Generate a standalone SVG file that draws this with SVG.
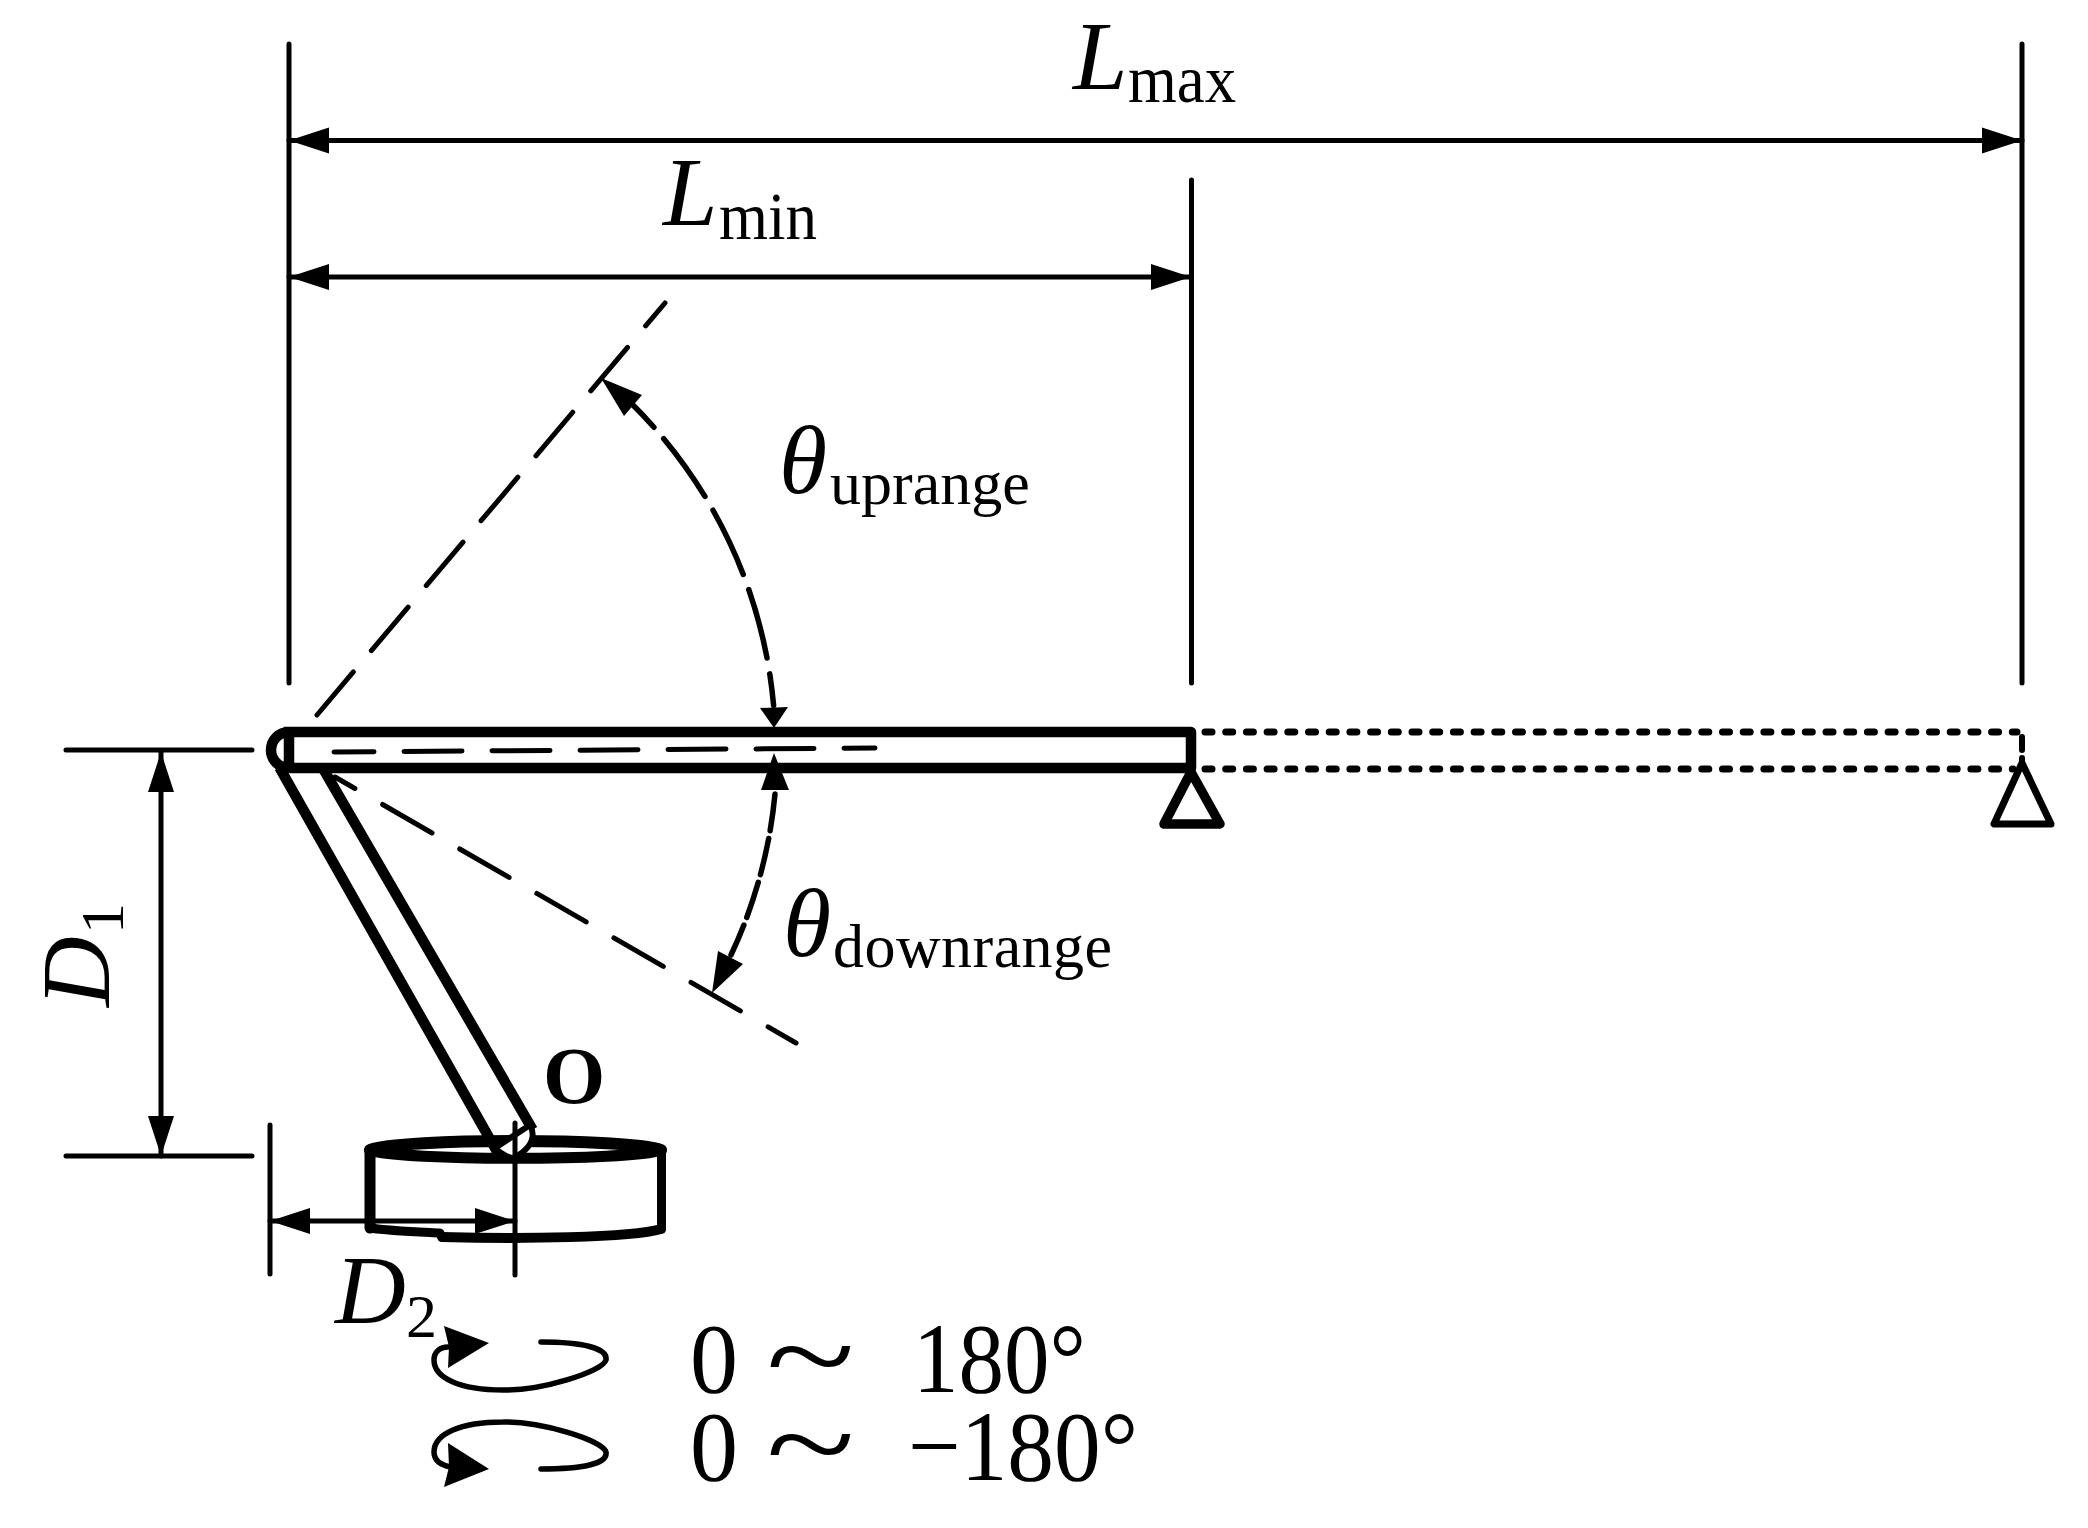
<svg xmlns="http://www.w3.org/2000/svg" width="2088" height="1528" viewBox="0 0 2088 1528">
<style>
.ln{fill:none;stroke:#000;stroke-linecap:round;stroke-linejoin:round}
.t4{stroke-width:5}.t5{stroke-width:5.5}.b{stroke-width:10.5;stroke-linecap:square;stroke-linejoin:round}
.ah{fill:#000;stroke:none}
.dot{fill:none;stroke:#000;stroke-width:7;stroke-linecap:round;stroke-dasharray:7 13.7}
text{font-family:"Liberation Serif","Times New Roman",serif;fill:#000}
.i{font-style:italic}
</style>
<defs>
<marker id="arrow" markerUnits="userSpaceOnUse" markerWidth="42" markerHeight="30" refX="40" refY="14" orient="auto-start-reverse"><path class="ah" d="M0,1 L40,14 L0,27 Z"/></marker>
</defs>
<rect width="2088" height="1528" fill="#fff"/>
<g id="connectors">
<path class="ln t4" d="M289,44V683M1191.500,180V683M2022,44V683"/>
<path class="ln t4" d="M66,750H252M66,1156H252M270,1125V1274"/>
<path class="ln t4" marker-start="url(#arrow)" marker-end="url(#arrow)" d="M289,140.500H2022"/>
<path class="ln t4" marker-start="url(#arrow)" marker-end="url(#arrow)" d="M289,277H1191"/>
<path class="ln t4" marker-start="url(#arrow)" marker-end="url(#arrow)" d="M161,752V1156"/>
<path class="ln t4" stroke-dasharray="57 28" stroke-dashoffset="27" d="M665,303L317,715"/>
<path class="ln t4" stroke-dasharray="57 32" stroke-dashoffset="34" d="M335,777L796,1043"/>
<path class="ln t4" stroke-dasharray="58 30" stroke-dashoffset="18" d="M334,752L875,748"/>
<path class="ln t5" stroke-dasharray="32 15 71 16 71 16 71 16 32" d="M632,404A485,485 0 0 1 774,710"/>
<path class="ln t5" stroke-dasharray="37 8" d="M775,794A487,487 0 0 1 731,955"/>
<path class="ah" d="M601,378L642,395L624,416Z"/>
<path class="ah" d="M774,728L760,708L788,707Z"/>
<path class="ah" d="M774,753L761,790L789,790Z"/>
<path class="ah" d="M712,993L718,951L743,964Z"/>
</g>
<g id="beam">
<path class="dot" d="M1205,732H2017M1205,769H2013"/>
<path class="ln" stroke-width="6" d="M2022,737V750M2022,758V768"/>
<path class="ln b" d="M1191,732H289A18,18 0 0 0 289,768H1191ZM289,732V768"/>
</g>
<g id="arm">
<path class="ln b" d="M282,772L495,1148M325,772L530,1125"/>
</g>
<g id="support-min"><path class="ln" stroke-width="9.500" d="M1191,772L1164,824H1220Z"/></g>
<g id="support-max"><path class="ln" stroke-width="7" d="M2022,763L1994,824H2051Z"/></g>
<g id="turntable">
<path class="ln" stroke-width="11" d="M370,1150V1228"/>
<path class="ln" stroke-width="9" d="M661.500,1150V1229"/>
<path class="ln" stroke-width="12" d="M370,1150C400,1138 630,1138 661,1150"/>
<path class="ln" stroke-width="11" d="M370,1150C400,1161 630,1161 661,1150"/>
<path class="ln" stroke-width="9" d="M370,1228C390,1231 420,1232 440,1233"/>
<path fill="none" stroke="#000" stroke-width="10" stroke-linecap="round" d="M442,1237C520,1239 630,1238 661,1229"/>
</g>
<g id="pivot">
<path fill="#fff" stroke="#000" stroke-width="6" stroke-linejoin="round" d="M495,1148L530,1125C536,1136 532,1148 514,1158C508,1158 500,1153 495,1148Z"/>
<path class="ln t4" d="M515,1123V1275"/>
<path class="ln t4" marker-start="url(#arrow)" marker-end="url(#arrow)" d="M270,1221H515"/>
</g>
<g id="rotation">
<path class="ln" stroke-width="5.500" d="M541,1342C582,1342 608,1348 606,1360C602,1372 540,1391 503,1390C460,1390 434,1378 434,1360C434,1352 440,1347 448,1347"/>
<path class="ah" d="M489,1343L444,1326L449,1347L448,1368Z"/>
<path class="ln" stroke-width="5.500" d="M541,1469C582,1469 608,1464 606,1452C602,1440 540,1421 503,1422C460,1422 434,1434 434,1452C434,1460 440,1465 451,1467"/>
<path class="ah" d="M489,1469L448,1443L449,1467L444,1487Z"/>
</g>
<g id="labels">
<text class="i" x="1073" y="89" font-size="98">L</text><text x="1128" y="102" font-size="68" textLength="108" lengthAdjust="spacingAndGlyphs">max</text>
<text class="i" x="663" y="225" font-size="98">L</text><text x="719" y="239" font-size="68" textLength="98" lengthAdjust="spacingAndGlyphs">min</text>
<text class="i" x="779" y="493" font-size="98">θ</text><text x="830" y="504" font-size="62">uprange</text>
<text class="i" x="783" y="956" font-size="98">θ</text><text x="833" y="967" font-size="62" textLength="279" lengthAdjust="spacing">downrange</text>
<text x="543" y="1103" font-size="80" font-weight="bold">O</text>
<text class="i" transform="translate(109,1007) rotate(-90)" font-size="98">D</text>
<text transform="translate(123,934) rotate(-90)" font-size="62">1</text>
<text class="i" x="335" y="1323" font-size="98">D</text><text x="406" y="1337" font-size="62">2</text>
<text x="690" y="1392" font-size="100" textLength="48" lengthAdjust="spacingAndGlyphs">0</text><text x="766" y="1398" font-size="125" textLength="89" lengthAdjust="spacingAndGlyphs">~</text><text x="913" y="1392" font-size="100" textLength="173" lengthAdjust="spacingAndGlyphs">180°</text>
<text x="690" y="1480" font-size="100" textLength="48" lengthAdjust="spacingAndGlyphs">0</text><text x="766" y="1486" font-size="125" textLength="89" lengthAdjust="spacingAndGlyphs">~</text><text x="908" y="1480" font-size="100" textLength="230" lengthAdjust="spacingAndGlyphs">−180°</text>
</g>
</svg>
